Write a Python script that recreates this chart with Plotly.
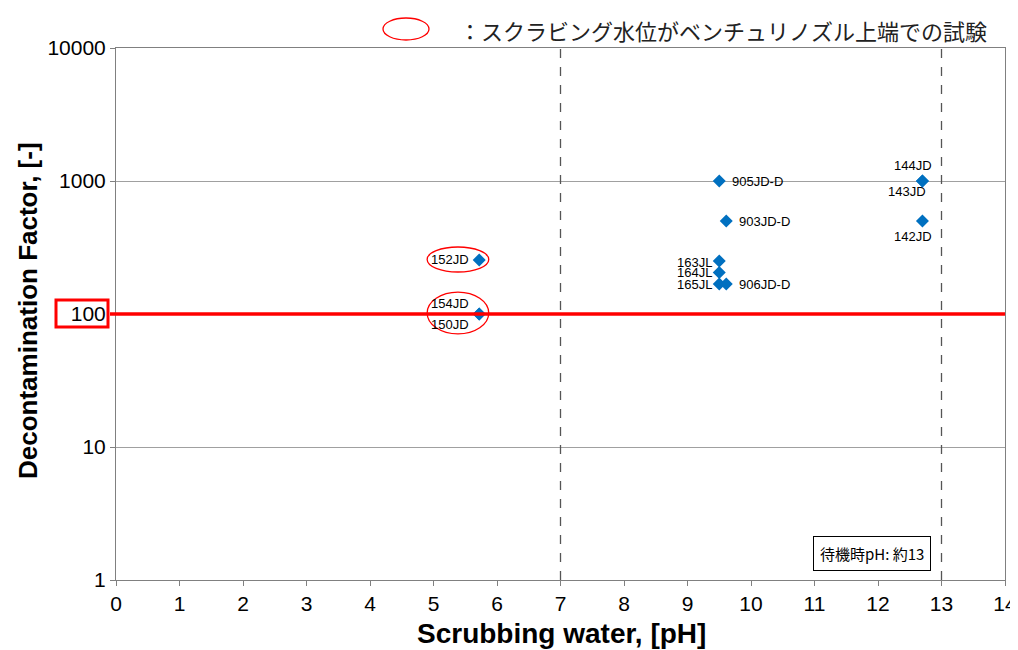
import math
import plotly.graph_objects as go

# Data
labels = ["152JD", "154JD", "150JD", "905JD-D", "903JD-D", "163JL", "164JL", "165JL", "906JD-D", "144JD", "143JD", "142JD"]
ph     = [5.72, 5.72, 5.72, 9.50, 9.61, 9.50, 9.50, 9.50, 9.61, 12.70, 12.70, 12.70]
df     = [255, 100, 100, 1000, 500, 250, 205, 168, 168, 1000, 1000, 500]

x_ticks = list(range(0, 15))
y_ticks = [1, 10, 100, 1000, 10000]
y_tick_text = ["1", "10", "100", "1000", "10000"]
ref_lines_x = [7, 13]
threshold = 100

# page offset (body margin) and figure geometry in screen pixels
OFF = 8
W, H = 1010, 642
L, R, T, B = 108, 13, 40, 70
PW, PH = W - L - R, H - T - B


def px(x):
    return (x - OFF - L) / PW


def py(y):
    return (OFF + H - B - y) / PH


# label placement (style)
label_style = {
    "152JD": dict(xanchor="right", xshift=-8, yshift=0),
    "154JD": dict(xanchor="right", xshift=-8, yshift=11),
    "150JD": dict(xanchor="right", xshift=-8, yshift=-10),
    "905JD-D": dict(xanchor="left", xshift=11, yshift=0),
    "903JD-D": dict(xanchor="left", xshift=11, yshift=0),
    "163JL": dict(xanchor="right", xshift=-5, yshift=-1),
    "164JL": dict(xanchor="right", xshift=-5, yshift=0),
    "165JL": dict(xanchor="right", xshift=-5, yshift=0),
    "906JD-D": dict(xanchor="left", xshift=11, yshift=0),
    "144JD": dict(xanchor="center", xshift=-9, yshift=16),
    "143JD": dict(xanchor="center", xshift=-15, yshift=-10),
    "142JD": dict(xanchor="center", xshift=-9, yshift=-15),
}

fig = go.Figure()
fig.add_trace(go.Scatter(
    x=ph, y=df, mode="markers",
    marker=dict(symbol="diamond", size=10, color="#0070C0"),
    showlegend=False, hoverinfo="skip",
))

annotations = []
for lab, xv, yv in zip(labels, ph, df):
    st = label_style[lab]
    annotations.append(dict(
        x=xv, y=math.log10(yv), xref="x", yref="y", text=lab, showarrow=False,
        font=dict(family="Liberation Sans, Arial", size=13, color="black"),
        yanchor="middle", **st))

# box annotation
annotations.append(dict(
    x=px(872), y=py(553), xref="paper", yref="paper", text="待機時pH: 約13", showarrow=False,
    font=dict(family="Noto Sans CJK JP", size=15, color="black"),
    bordercolor="black", borderwidth=1, borderpad=6, bgcolor="white",
    xanchor="center", yanchor="middle"))

# legend text
annotations.append(dict(
    x=px(457), y=py(30), xref="paper", yref="paper",
    text="：スクラビング水位がベンチュリノズル上端での試験", showarrow=False,
    font=dict(family="Noto Sans CJK JP", size=22, color="#222222"),
    xanchor="left", yanchor="middle"))

# axis titles
annotations.append(dict(
    x=px(561), y=py(633), xref="paper", yref="paper", text="<b>Scrubbing water, [pH]</b>",
    showarrow=False, font=dict(family="Liberation Sans, Arial", size=28, color="black"),
    xanchor="center", yanchor="middle"))
annotations.append(dict(
    x=px(28), y=py(311), xref="paper", yref="paper", text="<b>Decontamination Factor, [-]</b>",
    showarrow=False, textangle=-90, font=dict(family="Liberation Sans, Arial", size=26, color="black"),
    xanchor="center", yanchor="middle"))

shapes = []
for xv in ref_lines_x:
    shapes.append(dict(type="line", xref="x", yref="paper", x0=xv, x1=xv, y0=0, y1=1,
                       line=dict(color="#555555", width=1.3, dash="dash")))
shapes.append(dict(type="line", xref="paper", yref="y", x0=px(110), x1=1, y0=threshold, y1=threshold,
                   line=dict(color="#FF0000", width=3.5)))
# red box around 100 tick label
shapes.append(dict(type="rect", xref="paper", yref="paper",
                   x0=px(56), x1=px(108), y0=py(327), y1=py(300),
                   line=dict(color="#FF0000", width=3)))
# ellipses
shapes.append(dict(type="circle", xref="x", yref="y", x0=4.9, x1=5.87, y0=207, y1=319,
                   line=dict(color="#FF0000", width=1.3)))
shapes.append(dict(type="circle", xref="x", yref="y", x0=4.9, x1=5.87, y0=70.8, y1=146,
                   line=dict(color="#FF0000", width=1.3)))
# legend ellipse
shapes.append(dict(type="circle", xref="paper", yref="paper",
                   x0=px(383), x1=px(429), y0=py(40), y1=py(18),
                   line=dict(color="#FF0000", width=1.3)))

fig.update_layout(
    width=W, height=H,
    margin=dict(l=L, r=R, t=T, b=B, autoexpand=False),
    paper_bgcolor="white", plot_bgcolor="white",
    font=dict(family="Liberation Sans, Arial", color="black"),
    annotations=annotations, shapes=shapes,
    xaxis=dict(
        range=[0, 14], tickvals=x_ticks, ticks="outside", ticklen=5, tickcolor="#808080",
        showgrid=False, zeroline=False, showline=True, linecolor="#808080", mirror=True,
        tickfont=dict(size=21, family="Liberation Sans, Arial"), automargin=False,
    ),
    yaxis=dict(
        type="log", range=[0, 4], tickvals=y_ticks, ticktext=y_tick_text, ticks="outside", ticklen=5,
        tickcolor="#808080", showgrid=True, gridcolor="#A0A0A0", gridwidth=1, zeroline=False,
        showline=True, linecolor="#808080", mirror=True,
        tickfont=dict(size=21, family="Liberation Sans, Arial"), automargin=False,
    ),
)
fig.write_html("out.html")
